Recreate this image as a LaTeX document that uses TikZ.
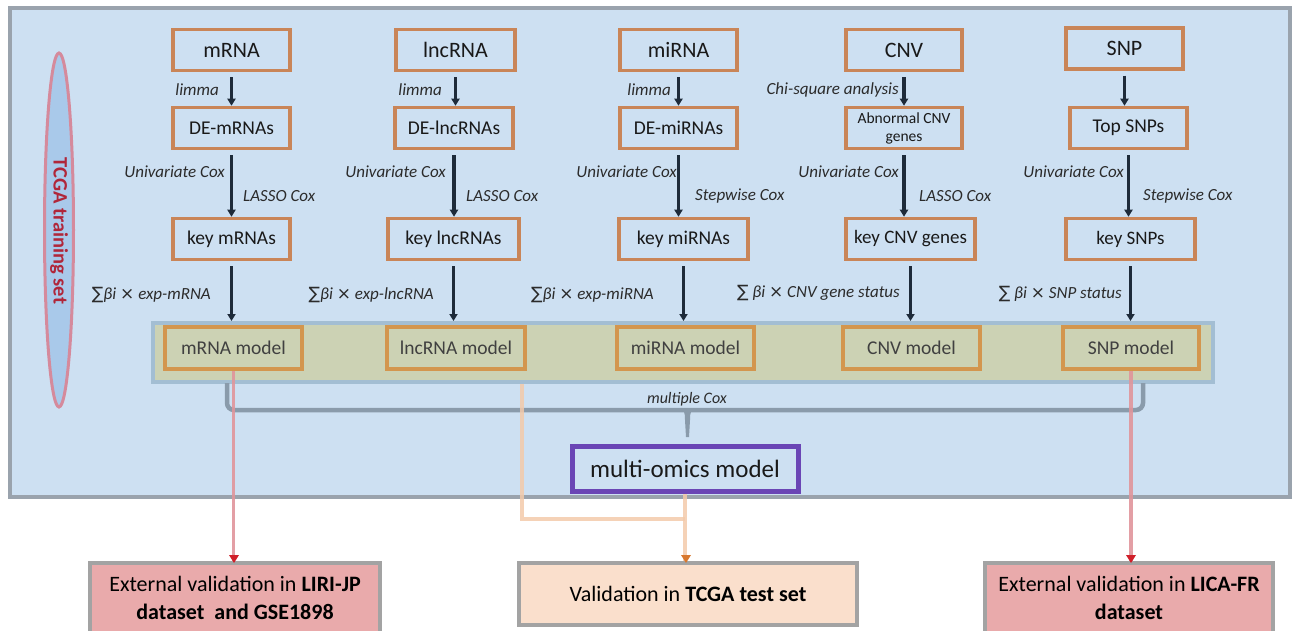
\documentclass[tikz,border=0pt]{standalone}
\usepackage{fontspec}
\setmainfont{Carlito}
\newfontfamily\symfont{DejaVu Sans}
\usetikzlibrary{arrows.meta,shapes.geometric}
\definecolor{framegray}{HTML}{9AA3AD}
\definecolor{bgblue}{HTML}{CDE0F2}
\definecolor{boxorange}{HTML}{C98558}
\definecolor{modorange}{HTML}{D3964E}
\definecolor{bandfill}{HTML}{CCD2B4}
\definecolor{bandedge}{HTML}{A3BED3}
\definecolor{navy}{HTML}{1E2B3A}
\definecolor{bracegray}{HTML}{8A9BAB}
\definecolor{purp}{HTML}{6A45B5}
\definecolor{redline}{HTML}{E0959B}
\definecolor{redtip}{HTML}{D0202A}
\definecolor{oraline}{HTML}{F3CAAA}
\definecolor{oratip}{HTML}{D8782E}
\definecolor{redbox}{HTML}{E9AAAB}
\definecolor{orabox}{HTML}{FADFCC}
\definecolor{botedge}{HTML}{A3A3A3}
\definecolor{ellfill}{HTML}{A9C9EA}
\definecolor{elledge}{HTML}{D58A9C}
\definecolor{tcgared}{HTML}{B0263A}
\definecolor{lbl}{HTML}{2B2B2B}
\tikzset{
  omic/.style={draw=boxorange, line width=3.5pt, minimum width=117pt, minimum height=41pt, inner sep=0pt, text=black!90, font=\fontsize{22}{24}\selectfont},
  derived/.style={omic, font=\fontsize{19.5}{22}\selectfont},
  model/.style={draw=modorange, line width=3.5pt, minimum width=137pt, minimum height=42pt, inner sep=0pt, text=black!75, font=\fontsize{19.5}{21}\selectfont},
  arr/.style={draw=navy, line width=3.5pt, -{Triangle[length=7pt,width=8pt]}, shorten <=5pt},
  lab/.style={font=\fontsize{17}{19}\selectfont\itshape, text=lbl, inner sep=0pt},
  valbox/.style={draw=botedge, line width=4pt, inner sep=0pt, align=center, font=\fontsize{22}{28}\selectfont},
}
\newcommand{\sm}{{\symfont\upshape ∑}}
\newcommand{\tm}{{\symfont\upshape ×}}
\begin{document}
\begin{tikzpicture}[x=1pt,y=-1pt]
\useasboundingbox (0,0) rectangle (1293,631);
% outer frame
\draw[line width=4pt, draw=framegray, fill=bgblue] (10,8) rectangle (1290,497);
% ellipse
\node[ellipse, draw=elledge, line width=3pt, fill=ellfill, minimum width=29pt, minimum height=354pt, inner sep=0pt] (ell) at (59,230) {};
\node[rotate=-90, font=\fontsize{20.5}{22}\selectfont\bfseries, text=tcgared] (tcga) at (59,231) {TCGA training set};
% band
\node[draw=bandedge, fill=bandfill, line width=4pt, minimum width=1060pt, minimum height=59pt, inner sep=0pt] (band) at (683,352.5) {};
% row 1
\node[omic] (mrna) at (231.5,50) {mRNA};
\node[omic, minimum width=119pt] (lnc) at (455.5,50) {lncRNA};
\node[omic] (mir) at (678.5,50) {miRNA};
\node[omic, minimum width=116pt] (cnv) at (904,50) {CNV};
\node[omic] (snp) at (1124.5,48.5) {SNP};
% row 2
\node[derived] (demrna) at (231.5,128) {DE-mRNAs};
\node[derived, minimum width=118pt] (delnc) at (454,128) {DE-lncRNAs};
\node[derived] (demir) at (678.5,128) {DE-miRNAs};
\node[derived, minimum width=116pt, align=center, font=\fontsize{15.5}{18}\selectfont] (abn) at (904,128) {Abnormal CNV\\genes};
\node[derived] (topsnp) at (1128.5,128) {Top SNPs};
% row 3
\node[derived] (kmrna) at (231.5,239) {key mRNAs};
\node[derived, minimum width=131pt] (klnc) at (453.5,239) {key lncRNAs};
\node[derived, minimum width=129pt] (kmir) at (683.5,239) {key miRNAs};
\node[derived, minimum width=129pt, font=\fontsize{19}{21}\selectfont] (kcnv) at (910.5,239) {key CNV genes};
\node[derived, minimum width=129pt, font=\fontsize{19}{21}\selectfont] (ksnp) at (1130.5,239) {key SNPs};
% models
\node[model] (mm) at (233.5,348) {mRNA model};
\node[model, minimum width=138pt] (lm) at (456,348) {lncRNA model};
\node[model] (mim) at (685.5,348) {miRNA model};
\node[model] (cm) at (911.5,348) {CNV model};
\node[model, minimum width=136pt] (sm) at (1131,348) {SNP model};
% arrows
\draw[arr] (mrna.south) -- (demrna.north);
\draw[arr] (lnc.south) -- (lnc.south |- delnc.north);
\draw[arr] (mir.south) -- (demir.north);
\draw[arr] (cnv.south) -- (abn.north);
\draw[arr] (snp.south) -- (snp.south |- topsnp.north);
\draw[arr] (demrna.south) -- (demrna.south |- kmrna.north);
\draw[arr] (delnc.south) -- (delnc.south |- klnc.north);
\draw[arr] (demir.south) -- (demir.south |- kmir.north);
\draw[arr] (abn.south) -- (abn.south |- kcnv.north);
\draw[arr] (topsnp.south) -- (topsnp.south |- ksnp.north);
\draw[arr] (kmrna.south) -- (kmrna.south |- band.north);
\draw[arr] (klnc.south) -- (klnc.south |- band.north);
\draw[arr] (kmir.south) -- (kmir.south |- band.north);
\draw[arr] (kcnv.south) -- (kcnv.south |- band.north);
\draw[arr] (ksnp.south) -- (ksnp.south |- band.north);
% labels row1
\node[lab, anchor=east] (l1) at (219,90) {limma};
\node[lab, anchor=east] (l2) at (442,90) {limma};
\node[lab, anchor=east] (l3) at (671,90) {limma};
\node[lab, anchor=east] (l4) at (899,90) {Chi-square analysis};
% labels row2
\node[lab, anchor=east] (u1) at (225,172) {Univariate Cox};
\node[lab, anchor=east] (u2) at (446,172) {Univariate Cox};
\node[lab, anchor=east] (u3) at (677,172) {Univariate Cox};
\node[lab, anchor=east] (u4) at (899,172) {Univariate Cox};
\node[lab, anchor=east] (u5) at (1124,172) {Univariate Cox};
\node[lab, anchor=west] (s1) at (243,196) {LASSO Cox};
\node[lab, anchor=west] (s2) at (466,196) {LASSO Cox};
\node[lab, anchor=west] (s3) at (695,196) {Stepwise Cox};
\node[lab, anchor=west] (s4) at (919,196) {LASSO Cox};
\node[lab, anchor=west] (s5) at (1143,196) {Stepwise Cox};
% formulas
\node[lab, anchor=east] (f1) at (211,295) {\sm βi \tm\ exp-mRNA};
\node[lab, anchor=east] (f2) at (434,295) {\sm βi \tm\ exp-lncRNA};
\node[lab, anchor=east] (f3) at (654,295) {\sm βi \tm\ exp-miRNA};
\node[lab, anchor=east] (f4) at (900,293) {\sm\ βi \tm\ CNV gene status};
\node[lab, anchor=east] (f5) at (1122,294) {\sm\ βi \tm\ SNP status};
% brace
\draw[draw=bracegray, line width=4.5pt, rounded corners=7pt] (227,383) -- (227,410) -- (1143,410) -- (1143,383);
\fill[bracegray] (677,408) .. controls (685,409) and (685,413) .. (685,420) -- (686,437) -- (689,437) -- (690,420) .. controls (690,413) and (690,409) .. (698,408) -- cycle;
\node[lab, font=\fontsize{16}{18}\selectfont\itshape] (mc) at (687,399) {multiple Cox};
% multi-omics
\node[draw=purp, line width=5pt, minimum width=226pt, minimum height=45pt, inner sep=0pt, font=\fontsize{25}{27}\selectfont, text=black!90] (multi) at (685,469) {multi-omics model};
% bottom boxes
\node[valbox, fill=redbox, minimum width=290pt, minimum height=70pt] (ext1) at (235,598) {External validation in \textbf{LIRI-JP}\\\textbf{dataset \ and GSE1898}};
\node[valbox, fill=orabox, minimum width=338pt, minimum height=62pt] (val) at (688,594) {Validation in \textbf{TCGA test set}};
\node[valbox, fill=redbox, minimum width=288pt, minimum height=70pt] (ext2) at (1129,598) {External validation in \textbf{LICA-FR}\\\textbf{dataset}};
% red lines
\draw[draw=redline, line width=3.5pt, opacity=0.9] (mm.south) -- (mm.south |- ext1.north);
\draw[draw=redline, line width=3.5pt, opacity=0.9] (sm.south) -- (sm.south |- ext1.north);
\fill[redtip] (234,563) -- (229,555) -- (239,555) -- cycle;
\fill[redtip] (1131,563) -- (1126,555) -- (1136,555) -- cycle;
% orange lines
\coordinate (os) at (522,384);
\coordinate (oj) at (522,519);
\draw[draw=oraline, line width=4pt, opacity=0.85] (os) -- (oj) -- (multi.south |- oj);
\draw[draw=oraline, line width=4pt, opacity=0.85] (multi.south) -- (multi.south |- val.north);
\fill[oratip] (686,563) -- (681,555) -- (691,555) -- cycle;
\end{tikzpicture}
\end{document}
